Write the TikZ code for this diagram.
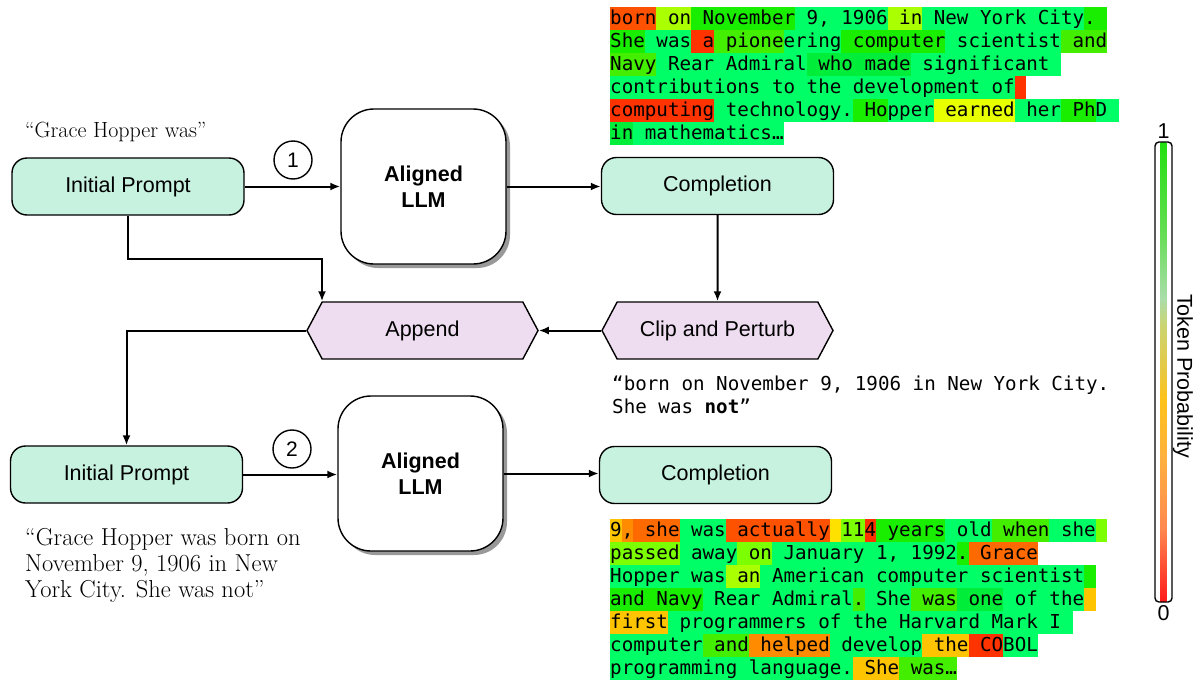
\documentclass[tikz,border=0pt]{standalone}
\usepackage{fontspec}
\usepackage{xcolor}
\newfontfamily\boxfont{Liberation Sans}
\newfontfamily\tokfont{DejaVu Sans Mono}
\usetikzlibrary{positioning,arrows.meta,shapes.symbols,shadows}

\definecolor{mintbox}{HTML}{C8F2E0}
\definecolor{lilac}{HTML}{EEDDF0}
\definecolor{tkred}{HTML}{FF3300}
\definecolor{tkvermilion}{HTML}{FF5200}
\definecolor{tkorange}{HTML}{FF6A00}
\definecolor{tkamber}{HTML}{FF8C00}
\definecolor{tkgold}{HTML}{FFC400}
\definecolor{tksun}{HTML}{FFE100}
\definecolor{tkyellow}{HTML}{E8FF00}
\definecolor{tklime}{HTML}{AAFF00}
\definecolor{tkchart}{HTML}{7CFF00}
\definecolor{tkleaf}{HTML}{44EE00}
\definecolor{tkgreen}{HTML}{1AEE00}
\definecolor{tkjade}{HTML}{00EE3A}
\definecolor{tkspring}{HTML}{00FF66}
\definecolor{barred}{HTML}{FF1A1A}
\definecolor{barcoral}{HTML}{FF8850}
\definecolor{barapricot}{HTML}{FFB040}
\definecolor{bargold}{HTML}{FFC21A}
\definecolor{barmustard}{HTML}{E8C840}
\definecolor{barolive}{HTML}{CCD470}
\definecolor{barsage}{HTML}{AADDAA}
\definecolor{barmint}{HTML}{66DD55}
\definecolor{bargreen}{HTML}{22E010}

\pgfdeclareverticalshading{tokenbar}{17bp}{color(0bp)=(barred); color(25bp)=(barred);
    color(33bp)=(barcoral); color(40.5bp)=(barapricot); color(47bp)=(bargold);
    color(50bp)=(barmustard); color(55bp)=(barolive); color(58bp)=(barsage);
    color(65bp)=(barmint); color(75bp)=(bargreen); color(100bp)=(bargreen)}

% one highlighted token
\newcommand{\tokstrut}{\rule[-6pt]{0pt}{23pt}}
\newcommand{\tk}[2]{{\fboxsep=0pt\colorbox{#1}{\tokstrut#2}}}

\begin{document}
\begin{tikzpicture}[x=1pt, y=-1pt,
    prompt/.style={draw, line width=1.4pt, rounded corners=15pt, fill=mintbox,
        minimum width=232, minimum height=57, inner sep=0,
        font=\boxfont\fontsize{21.5}{26}\selectfont},
    llm/.style={draw, line width=1.4pt, rounded corners=33pt, fill=white,
        minimum width=165, minimum height=155, inner sep=0, align=center,
        font=\boxfont\bfseries\fontsize{21.5}{26}\selectfont,
        drop shadow={shadow xshift=4pt, shadow yshift=-4pt, fill=gray!80, opacity=1}},
    hexbox/.style={signal, signal to=west and east, signal pointer angle=124,
        draw, line width=1.4pt, fill=lilac, minimum width=231, minimum height=57,
        inner sep=0, font=\boxfont\fontsize{21.5}{26}\selectfont},
    stepnum/.style={circle, draw, line width=1.4pt, minimum size=38, inner sep=0,
        font=\boxfont\fontsize{21}{25}\selectfont},
    quotetext/.style={inner sep=0, align=left, font=\fontsize{22}{26}\selectfont},
    monotext/.style={inner sep=0, align=left, font=\tokfont\fontsize{19.2}{23.3}\selectfont},
    tokens/.style={anchor=north west, inner sep=0, align=left,
        font=\tokfont\fontsize{19.2}{23}\selectfont},
    barlabel/.style={inner sep=0, font=\boxfont\fontsize{21.5}{26}\selectfont},
    flow/.style={-{Latex[length=10pt,width=8pt]}, line width=2pt}]

    \fill[white] (0,0) rectangle (1198,680);
    \useasboundingbox (0,0) rectangle (1198,680);

    % first pass
    \node[quotetext, anchor=base west] (q1) at (25,137) {``Grace Hopper was''};
    \node[prompt] (ip1) at (128,186.5) {Initial Prompt};
    \node[stepnum] (s1) at (293,160) {1};
    \node[llm] (llm1) at (423.5,186.5) {Aligned\\LLM};
    \node[prompt] (comp1) at (717.5,186) {Completion};
    \node[tokens] (out1) at (610,7) {%
\tk{tkvermilion}{born}\tk{tklime}{~on}\tk{tkgreen}{~November}\tk{tkspring}{~9,~1906}\tk{tklime}{~in}\tk{tkspring}{~New~York~City}\tk{tkgreen}{.~}\\
\tk{tkgreen}{She}\tk{tkspring}{~was}\tk{tkred}{~a}\tk{tkleaf}{~pione}\tk{tkspring}{ering}\tk{tkgreen}{~computer}\tk{tkspring}{~scientist}\tk{tkleaf}{~and}\\
\tk{tkleaf}{Navy}\tk{tkspring}{~Rear~Admiral}\tk{tkjade}{~who~made}\tk{tkspring}{~significant~}\\
\tk{tkspring}{contributions~to~the~development~of}\tk{tkred}{~}\\
\tk{tkred}{computing}\tk{tkspring}{~technology.}\tk{tkgreen}{~Ho}\tk{tkspring}{pper}\tk{tkyellow}{~earned}\tk{tkspring}{~her}\tk{tkgreen}{~Ph}\tk{tkspring}{D~}\\
\tk{tkjade}{in}\tk{tkspring}{~mathematics…}};

    % clip and feed back
    \node[hexbox] (clip) at (717.5,330.5) {Clip and Perturb};
    \node[hexbox] (append) at (422.5,330.5) {Append};
    \node[monotext, anchor=north west] (clipped) at (612,375.5) {“born on November 9, 1906 in New York City.\\She was \textbf{not}”};

    % second pass
    \node[prompt] (ip2) at (126.5,474.5) {Initial Prompt};
    \node[stepnum] (s2) at (292,449) {2};
    \node[llm] (llm2) at (420.5,473.5) {Aligned\\LLM};
    \node[prompt] (comp2) at (715.5,475) {Completion};
    \node[quotetext, anchor=north west, font=\fontsize{24.5}{26}\selectfont] (q2) at (25,528) {``Grace Hopper was born on\\November 9, 1906 in New\\York City. She was not''};
    \node[tokens] (out2) at (610,519) {%
\tk{tkgold}{9}\tk{tkamber}{,}\tk{tkorange}{~she}\tk{tkspring}{~was}\tk{tkvermilion}{~actually}\tk{tksun}{~}\tk{tkchart}{11}\tk{tkred}{4}\tk{tkgreen}{~years}\tk{tkspring}{~old}\tk{tkleaf}{~when}\tk{tkspring}{~she}\tk{tkchart}{~}\\
\tk{tkchart}{passed}\tk{tkspring}{~away}\tk{tkchart}{~on}\tk{tkspring}{~January~1,~1992}\tk{tkgreen}{.}\tk{tkorange}{~Grace}\\
\tk{tkspring}{Hopper~was}\tk{tklime}{~an}\tk{tkspring}{~American~computer~scientist}\tk{tkgreen}{~}\\
\tk{tkgreen}{and~Navy}\tk{tkspring}{~Rear~Admiral}\tk{tkleaf}{.}\tk{tkspring}{~She}\tk{tkleaf}{~was}\tk{tkjade}{~one}\tk{tkspring}{~of~the}\tk{tkgold}{~}\\
\tk{tkgold}{first}\tk{tkspring}{~programmers~of~the~Harvard~Mark~I~}\\
\tk{tkspring}{computer}\tk{tkleaf}{~and}\tk{tkamber}{~helped}\tk{tkspring}{~develop}\tk{tkgold}{~the}\tk{tkred}{~CO}\tk{tkspring}{BOL}\\
\tk{tkspring}{programming~language.}\tk{tkgold}{~She}\tk{tkleaf}{~was…}};

    % colour scale
    \node[draw, line width=1.4pt, rounded corners=4pt, shade, shading=tokenbar,
        minimum width=17, minimum height=460, inner sep=0] (bar) at (1163.5,372) {};
    \node[barlabel, above=3pt of bar] (one) {1};
    \node[barlabel, below=3pt of bar] (zero) {0};
    \node[barlabel, rotate=-90] (tprob) at (1183,376) {Token Probability};

    % connectors
    \coordinate (split) at (322,259);
    \draw[flow] (ip1) -- (llm1);
    \draw[flow] (llm1.east) -- (llm1.east -| comp1.west);
    \draw[flow] (ip1.south) |- (split) -- (split |- append.north);
    \draw[flow] (comp1) -- (clip);
    \draw[flow] (clip.west) -- (append.east);
    \draw[flow] (append.west) -| (ip2.north);
    \draw[flow] (ip2.east) -- (ip2.east -| llm2.west);
    \draw[flow] (llm2.east) -- (llm2.east -| comp2.west);

\end{tikzpicture}
\end{document}
